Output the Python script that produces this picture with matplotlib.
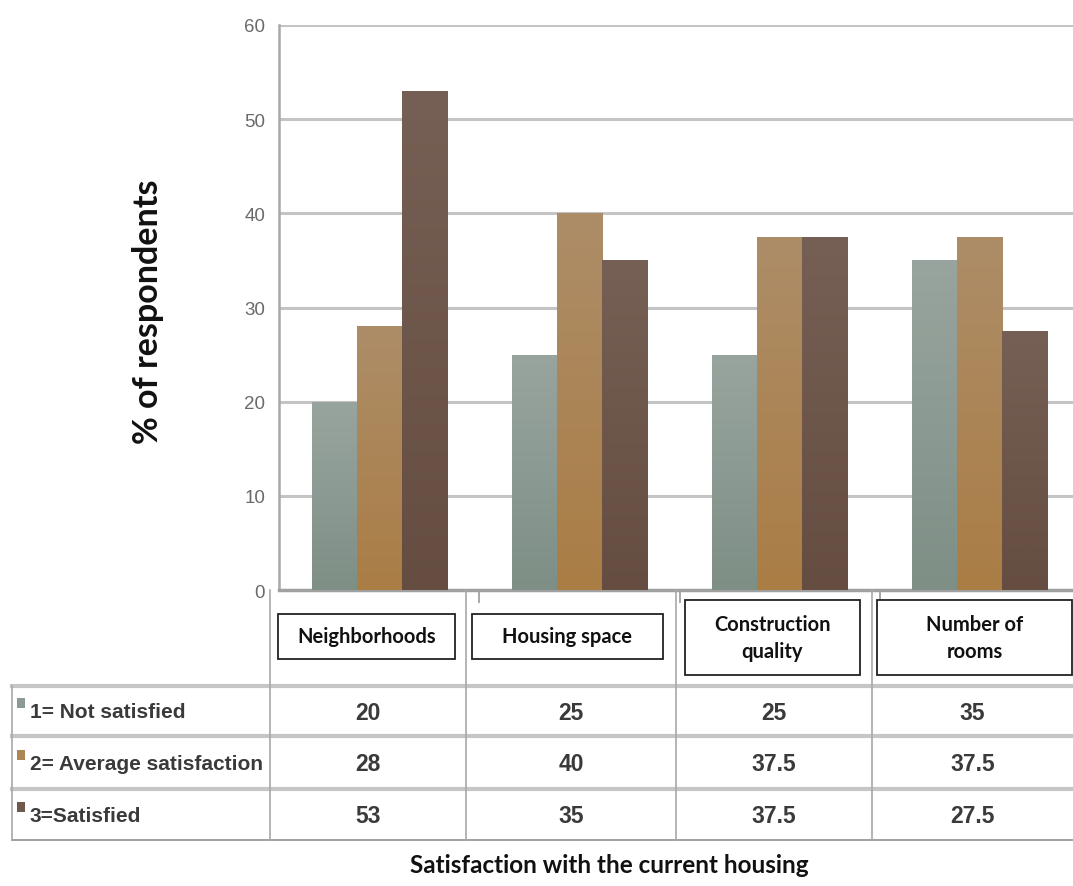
import numpy as np
import matplotlib
matplotlib.use("Agg")
import matplotlib.pyplot as plt
from matplotlib import font_manager
from matplotlib.colors import LinearSegmentedColormap
from matplotlib.lines import Line2D
from matplotlib.patches import Rectangle

# ---- data ----
categories = ["Neighborhoods", "Housing space", "Construction\nquality", "Number of\nrooms"]
series_names = ["1= Not satisfied", "2= Average satisfaction", "3=Satisfied"]
not_satisfied = [20, 25, 25, 35]
average_satisfaction = [28, 40, 37.5, 37.5]
satisfied = [53, 35, 37.5, 27.5]
table_text = [["20", "25", "25", "35"],
              ["28", "40", "37.5", "37.5"],
              ["53", "35", "37.5", "27.5"]]
y_ticks = [0, 10, 20, 30, 40, 50, 60]

# ---- fonts ----
available = {f.name for f in font_manager.fontManager.ttflist}
def pick(*names):
    for n in names:
        if n in available:
            return n
    return "DejaVu Sans"

narrow = pick("Liberation Sans Narrow", "Liberation Sans", "DejaVu Sans")
heading = pick("Lato", "Open Sans", "DejaVu Sans")

W, H = 1073, 887
fig = plt.figure(figsize=(W / 100, H / 100), dpi=100)

def fx(x):
    return x / W

def fy(y):
    return 1 - y / H

# ---- bar chart ----
ax_left, ax_right = 279, 1080
ax_top, ax_bottom = 26, 591
ax = fig.add_axes([fx(ax_left), fy(ax_bottom), fx(ax_right - ax_left), (ax_bottom - ax_top) / H])
ax.set_xlim(0, 4)
ax.set_ylim(0, 60)
ax.set_yticks(y_ticks)
ax.set_yticklabels([str(t) for t in y_ticks], fontfamily=narrow, fontsize=13.5, color="#6a6a6a")
ax.set_xticks([1, 2, 3])
ax.set_xticklabels([])
ax.tick_params(axis="y", length=0, pad=10)
ax.tick_params(axis="x", length=9, width=1.2, color="#9a9a9a", direction="out")
for side in ["top", "right"]:
    ax.spines[side].set_visible(False)
ax.spines["left"].set_color("#a8a8a8")
ax.spines["left"].set_linewidth(1.8)
ax.spines["bottom"].set_color("#a0a0a0")
ax.spines["bottom"].set_linewidth(2.5)
ax.yaxis.grid(True, color="#c4c4c4", linewidth=2.2)
ax.set_axisbelow(True)

gradients = [
    ("#98a59e", "#7e8f86"),
    ("#ad8d68", "#aa7d45"),
    ("#765f54", "#654d41"),
]
flat = ["#8c9b93", "#ad8656", "#6f5a4e"]
bar_w = 0.225
centers = np.arange(4) + 0.5
all_series = [not_satisfied, average_satisfaction, satisfied]
for i, vals in enumerate(all_series):
    xs = centers + (i - 1) * bar_w
    bars = ax.bar(xs, vals, width=bar_w, color=flat[i], edgecolor="none", zorder=2)
    cmap = LinearSegmentedColormap.from_list(f"g{i}", [gradients[i][1], gradients[i][0]])
    grad = np.linspace(0, 1, 256).reshape(-1, 1)
    for b in bars:
        x0, w, h = b.get_x(), b.get_width(), b.get_height()
        im = ax.imshow(grad, extent=[x0, x0 + w, 0, h], origin="lower", cmap=cmap,
                       aspect="auto", zorder=3, interpolation="bicubic")
        im.set_clip_path(b)
ax.set_xlim(0, 4)
ax.set_ylim(0, 60)

# y-axis title
fig.text(fx(148), fy(312), "% of respondents", rotation=90, ha="center", va="center",
         fontsize=24.5, fontweight="bold", family=heading, color="#111111")

# ---- data table ----
line_c = "#b5b5b5"
col_edges = [270, 466, 676, 872, 1073]
row_edges = [687, 737, 790, 841]
table_left = 12

def hline(y, x0, x1, lw=1.4, c=line_c):
    fig.add_artist(Line2D([fx(x0), fx(x1)], [fy(y), fy(y)], color=c, lw=lw))

def vline(x, y0, y1, lw=1.2, c="#a8a8a8"):
    fig.add_artist(Line2D([fx(x), fx(x)], [fy(y0), fy(y1)], color=c, lw=lw))

hline(row_edges[0], table_left, W, lw=3.0, c="#c6c6c6")
hline(row_edges[1], table_left, W, lw=3.0, c="#c6c6c6")
hline(row_edges[2], table_left, W, lw=3.0, c="#c6c6c6")
hline(row_edges[3], table_left, W, lw=1.4, c="#a0a0a0")
vline(table_left, row_edges[0], row_edges[3])
for x in col_edges[:-1]:
    vline(x, ax_bottom, row_edges[3])

# category headers in boxes
header_boxes = [(278, 455, 615, 660), (472, 663, 615, 660), (685, 860, 601, 676), (877, 1072, 601, 676)]
for (x0, x1, y0, y1), label in zip(header_boxes, categories):
    fig.add_artist(Rectangle((fx(x0), fy(y1)), fx(x1 - x0), (y1 - y0) / H,
                             facecolor="white", edgecolor="#222222", lw=1.3))
    fig.text(fx((x0 + x1) / 2), fy((y0 + y1) / 2), label, ha="center", va="center",
             fontsize=14.5, fontweight="bold", family=heading, color="#111111",
             linespacing=1.4)

# row labels with legend keys and values
for r, name in enumerate(series_names):
    yc = (row_edges[r] + row_edges[r + 1]) / 2
    fig.add_artist(Rectangle((fx(17), fy(yc - 3)), fx(8), 10 / H,
                             facecolor=flat[r], edgecolor="none"))
    fig.text(fx(30), fy(yc + 1), name, ha="left", va="center", fontsize=15,
             fontweight="bold", family=narrow, color="#3a3a3a")
    for c in range(4):
        xc = (col_edges[c] + col_edges[c + 1]) / 2
        fig.text(fx(xc), fy(yc + 1), table_text[r][c], ha="center", va="center",
                 fontsize=16.5, fontweight="bold", family=narrow, color="#3a3a3a")

# x-axis title
fig.text(fx(609), fy(866), "Satisfaction with the current housing", ha="center", va="center",
         fontsize=17.5, fontweight="bold", family=heading, color="#111111")

fig.savefig("out.png", dpi=100, facecolor="white")
